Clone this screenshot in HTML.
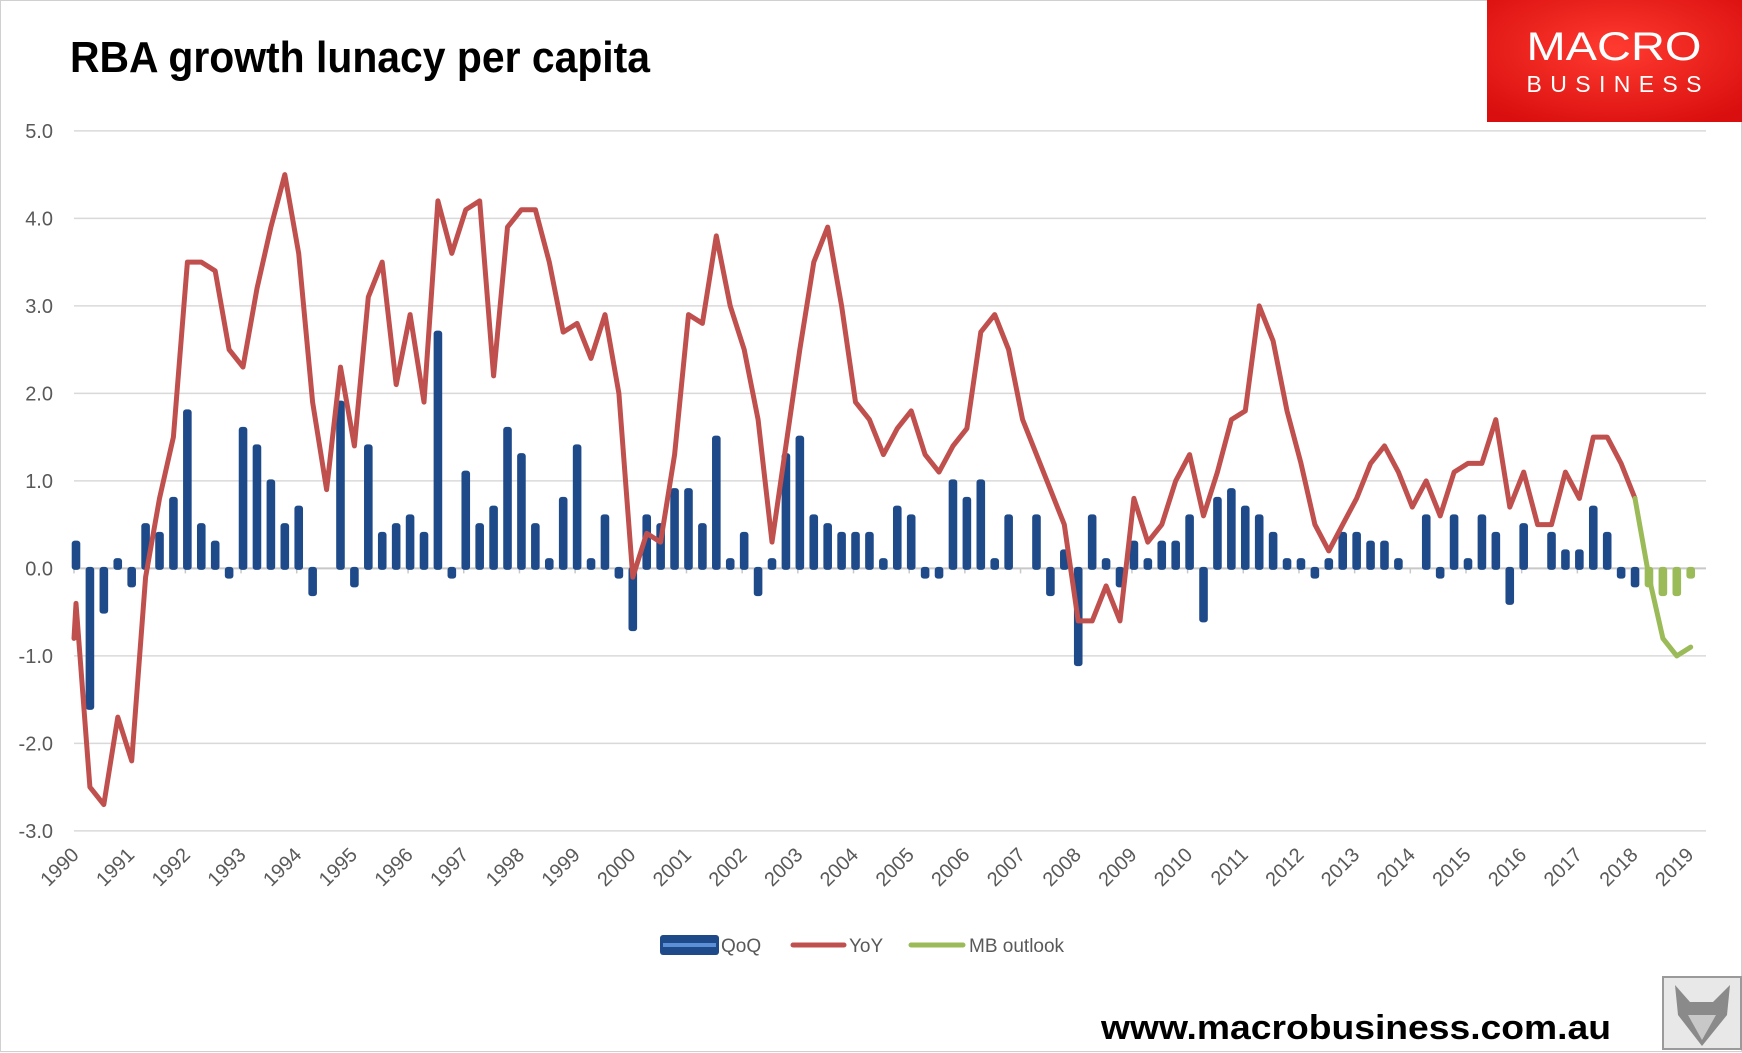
<!DOCTYPE html>
<html><head><meta charset="utf-8"><style>
html,body{margin:0;padding:0;background:#fff;}
svg{display:block;font-family:"Liberation Sans",sans-serif;}
</style></head><body>
<svg id="chart" width="1742" height="1053" viewBox="0 0 1742 1053" xmlns="http://www.w3.org/2000/svg">
<rect x="0.5" y="0.5" width="1741" height="1051" fill="#fff" stroke="#d0d0d0"/>
<text x="70" y="72" font-size="44" font-weight="bold" fill="#000" textLength="580" lengthAdjust="spacingAndGlyphs">RBA growth lunacy per capita</text>
<g>
<defs><radialGradient id="lg" cx="50%" cy="40%" r="70%"><stop offset="0" stop-color="#ff3b30"/><stop offset="1" stop-color="#d90e0e"/></radialGradient></defs>
<rect x="1487" y="0" width="255" height="122" fill="url(#lg)"/>
<text x="1614" y="60" font-size="40" fill="#fff" text-anchor="middle" textLength="175" lengthAdjust="spacingAndGlyphs">MACRO</text>
<text x="1614" y="92" font-size="23" fill="#fff" text-anchor="middle" textLength="175" lengthAdjust="spacing">BUSINESS</text>
</g>
<g id="grid"></g>
<g id="yaxis"></g>
<g id="xaxis"></g>
<g id="bars"></g>
<g id="lines"></g>
<g>
<g><rect x="660" y="935" width="59" height="20" rx="3" fill="#1f4a8a"/><rect x="663" y="943" width="53" height="4" fill="#5b8fd6"/><text x="721" y="952" font-size="19" fill="#595959">QoQ</text></g>
<g><line x1="793" y1="945" x2="844" y2="945" stroke="#c0504d" stroke-width="5" stroke-linecap="round"/><text x="849" y="952" font-size="19" fill="#595959">YoY</text></g>
<g><line x1="911" y1="945" x2="963" y2="945" stroke="#9bbb59" stroke-width="5" stroke-linecap="round"/><text x="969" y="952" font-size="19" fill="#595959">MB outlook</text></g>
</g>
<text x="1101" y="1039" font-size="34" font-weight="bold" fill="#000" textLength="510" lengthAdjust="spacingAndGlyphs">www.macrobusiness.com.au</text>
<g>
<rect x="1663" y="977" width="78" height="72" fill="#e8e8e8" stroke="#9a9a9a" stroke-width="2"/>
<path d="M1675 985 L1690 1002 L1713 1002 L1730 985 L1727 1015 L1702 1046 L1678 1015 Z" fill="#8a8a8a"/>
<path d="M1688 1015 L1716 1015 L1702 1040 Z" fill="#c8c8c8"/>
</g>
</svg>
<script>
const quarters = 117; // 1990Q1 .. 2019Q1
const years = ["1990","1991","1992","1993","1994","1995","1996","1997","1998","1999","2000","2001","2002","2003","2004","2005","2006","2007","2008","2009","2010","2011","2012","2013","2014","2015","2016","2017","2018","2019"];
const yTicks = [5,4,3,2,1,0,-1,-2,-3];
const yTickLabels = ["5.0","4.0","3.0","2.0","1.0","0.0","-1.0","-2.0","-3.0"];
const qoq = [0.3,-1.6,-0.5,0.1,-0.2,0.5,0.4,0.8,1.8,0.5,0.3,-0.1,1.6,1.4,1.0,0.5,0.7,-0.3,0,1.9,
-0.2,1.4,0.4,0.5,0.6,0.4,2.7,-0.1,1.1,0.5,0.7,1.6,1.3,0.5,0.1,0.8,1.4,0.1,0.6,-0.1,
-0.7,0.6,0.5,0.9,0.9,0.5,1.5,0.1,0.4,-0.3,0.1,1.3,1.5,0.6,0.5,0.4,0.4,0.4,0.1,0.7,
0.6,-0.1,-0.1,1.0,0.8,1.0,0.1,0.6,0,0.6,-0.3,0.2,-1.1,0.6,0.1,-0.2,0.3,0.1,0.3,0.3,
0.6,-0.6,0.8,0.9,0.7,0.6,0.4,0.1,0.1,-0.1,0.1,0.4,0.4,0.3,0.3,0.1,0,0.6,-0.1,0.6,
0.1,0.6,0.4,-0.4,0.5,0,0.4,0.2,0.2,0.7,0.4,-0.1,-0.2,null,null,null,null];
const qoqOutlook = {113:-0.2,114:-0.3,115:-0.3,116:-0.1};
const yoyLeadIn = -0.8;
const yoy = [-0.4,-2.5,-2.7,-1.7,-2.2,-0.1,0.8,1.5,3.5,3.5,3.4,2.5,2.3,3.2,3.9,4.5,3.6,1.9,0.9,2.3,
1.4,3.1,3.5,2.1,2.9,1.9,4.2,3.6,4.1,4.2,2.2,3.9,4.1,4.1,3.5,2.7,2.8,2.4,2.9,2.0,
-0.1,0.4,0.3,1.3,2.9,2.8,3.8,3.0,2.5,1.7,0.3,1.4,2.5,3.5,3.9,3.0,1.9,1.7,1.3,1.6,
1.8,1.3,1.1,1.4,1.6,2.7,2.9,2.5,1.7,1.3,0.9,0.5,-0.6,-0.6,-0.2,-0.6,0.8,0.3,0.5,1.0,
1.3,0.6,1.1,1.7,1.8,3.0,2.6,1.8,1.2,0.5,0.2,0.5,0.8,1.2,1.4,1.1,0.7,1.0,0.6,1.1,
1.2,1.2,1.7,0.7,1.1,0.5,0.5,1.1,0.8,1.5,1.5,1.2,0.8];
const yoyOutlookStart = 112;
const yoyOutlook = [0.8,-0.1,-0.8,-1.0,-0.9];

const NS="http://www.w3.org/2000/svg";
const X0=76, STEP=13.92, Y0=568.4, UNIT=87.5, GL=74, GR=1706;
function xq(i){return X0+i*STEP;}
function yv(v){return Y0-v*UNIT;}
function mk(tag,parent){const e=document.createElementNS(NS,tag);parent.appendChild(e);return e;}
const grid=document.getElementById('grid'), ya=document.getElementById('yaxis'), xa=document.getElementById('xaxis'), bars=document.getElementById('bars'), lines=document.getElementById('lines');
yTicks.forEach((t,k)=>{
  const l=mk('line',grid);
  
  
  l.setAttribute('x1',GL);l.setAttribute('x2',GR);l.setAttribute('y1',yv(t));l.setAttribute('y2',yv(t));
  l.setAttribute('stroke',t===0?'#c8c8c8':'#d9d9d9');l.setAttribute('stroke-width',t===0?2:1.5);
  const tx=mk('text',ya);
  
  
  tx.setAttribute('x',53);tx.setAttribute('y',yv(t)+7);tx.setAttribute('text-anchor','end');
  tx.setAttribute('font-size','20');tx.setAttribute('fill','#595959');tx.textContent=yTickLabels[k];
});
years.forEach((y,k)=>{
  const tx0=xq(k*4)-2;
  const tk=mk('line',xa);
  
  
  tk.setAttribute('x1',tx0);tk.setAttribute('x2',tx0);tk.setAttribute('y1',Y0);tk.setAttribute('y2',Y0+5);
  tk.setAttribute('stroke','#c8c8c8');tk.setAttribute('stroke-width',1.5);
  const t=mk('text',xa);
  
  
  const ax=tx0+6, ay=856;
  t.setAttribute('x',ax);t.setAttribute('y',ay);t.setAttribute('text-anchor','end');
  t.setAttribute('transform','rotate(-45 '+ax+' '+ay+')');
  t.setAttribute('font-size','20');t.setAttribute('fill','#595959');t.textContent=y;
});
function bar(i,v,color,name){
  if(v===null||v===0)return;
  const r=mk('rect',bars);
  
  
  const top=Math.min(yv(v),Y0), h=Math.abs(yv(v)-Y0);
  r.setAttribute('x',xq(i)-4.3);r.setAttribute('width',8.6);
  r.setAttribute('y',top-1.5);r.setAttribute('height',h+3);r.setAttribute('rx',3);
  r.setAttribute('fill',color);
}
qoq.forEach((v,i)=>bar(i,v,'#1f4a8a','qoq-bar'));
Object.keys(qoqOutlook).forEach(k=>bar(+k,qoqOutlook[k],'#9bbb59','outlook-bar'));
function poly(vals,start,color,name,lead){
  const p=mk('polyline',lines);
  
  
  let pts=vals.map((v,j)=>xq(start+j).toFixed(1)+','+yv(v).toFixed(1));
  if(lead!==undefined) pts.unshift(GL+','+yv(lead).toFixed(1));
  p.setAttribute('points',pts.join(' '));
  p.setAttribute('fill','none');p.setAttribute('stroke',color);p.setAttribute('stroke-width',5);
  p.setAttribute('stroke-linejoin','round');p.setAttribute('stroke-linecap','round');
}
poly(yoy,0,'#c0504d','yoy-line',yoyLeadIn);
poly(yoyOutlook,yoyOutlookStart,'#9bbb59','mb-outlook-line');
</script>
</body></html>
